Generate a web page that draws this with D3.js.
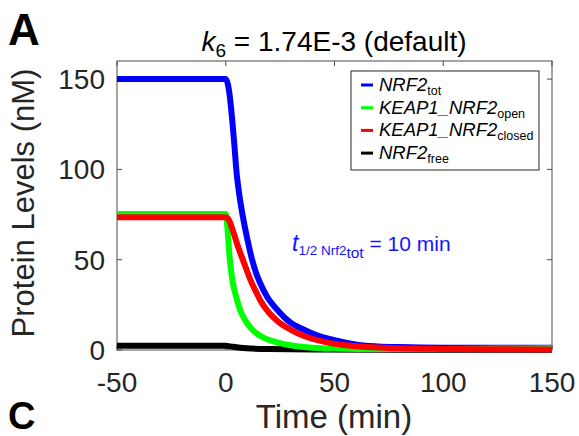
<!DOCTYPE html>
<html>
<head>
<meta charset="utf-8">
<script src="https://cdn.jsdelivr.net/npm/d3@7"></script>
<style>
  html, body { margin: 0; padding: 0; background: #fff; }
  svg { display: block; font-family: "Liberation Sans", Arial, sans-serif; }
</style>
</head>
<body>
<svg id="chart" width="579" height="436"></svg>
<script>
// Simulated protein levels (nM) over time (min); degradation switched on at t = 0
const timeTot = [-50, 0, 1, 2, 3, 4, 5, 6, 7, 8, 10, 12, 14, 16, 19, 22, 25, 27, 30, 35, 41, 50, 61, 70, 80, 100, 125, 150];
const nrf2Tot = [150, 150, 147, 139, 127, 113, 98, 88, 80, 73, 61, 50.5, 42.5, 36.5, 29.5, 24.5, 20.5, 18, 15, 11.8, 8.6, 5.4, 2.8, 2.0, 1.6, 1.3, 1.3, 1.3];

const timeOpen = [-50, 0, 1, 1.8, 3, 4, 5, 6, 7, 8.7, 10, 12, 15.6, 20, 25, 29, 35, 40, 50, 60, 80, 100, 125, 150];
const keapOpen = [75.3, 75.3, 64, 51, 39, 33, 28.5, 24.5, 21, 17, 14.5, 11.5, 8, 5.5, 3.8, 2.8, 1.8, 1.3, 0.8, 0.6, 0.5, 0.6, 0.8, 1.0];

const timeClosed = [-50, 0, 1, 2, 3, 4, 5, 6, 8, 9.7, 12, 14, 16.1, 20, 24, 30, 36.3, 45, 55, 65, 80, 100, 125, 150];
const keapClosed = [73.5, 73.5, 72.8, 70.5, 67, 63.5, 59.5, 56, 49.5, 44, 37, 32, 27, 20.5, 15.8, 11.2, 7.6, 4.6, 2.6, 1.7, 1.0, 0.6, 0.4, 0.3];

const timeFree = [-50, 0, 2, 5, 8, 12, 20, 40, 80, 150];
const nrf2Free = [2.3, 2.3, 2.0, 1.5, 1.1, 0.8, 0.5, 0.3, 0.2, 0.2];

const xTicks = [-50, 0, 50, 100, 150];
const yTicks = [0, 50, 100, 150];

const seriesNames = [
  { main: "NRF2", sub: "tot", color: "#0000ff" },
  { main: "KEAP1_NRF2", sub: "open", color: "#00ff00" },
  { main: "KEAP1_NRF2", sub: "closed", color: "#ff0000" },
  { main: "NRF2", sub: "free", color: "#000000" }
];

const svg = d3.select("#chart");
const axisColor = "#262626";
const boxColor = "#4a4a4a";

const x = d3.scaleLinear().domain([-50, 150]).range([117, 552]);
const y = d3.scaleLinear().domain([0, 160]).range([350, 61]);

// Axes box with inward ticks on all four sides
const frame = svg.append("g");
frame.append("rect")
  .attr("x", x(-50)).attr("y", y(160))
  .attr("width", x(150) - x(-50)).attr("height", y(0) - y(160))
  .attr("fill", "none").attr("stroke", boxColor).attr("stroke-width", 1);

const tickLen = 5;
xTicks.forEach(t => {
  frame.append("line").attr("x1", x(t)).attr("x2", x(t))
    .attr("y1", y(0)).attr("y2", y(0) - tickLen).attr("stroke", boxColor);
  frame.append("line").attr("x1", x(t)).attr("x2", x(t))
    .attr("y1", y(160)).attr("y2", y(160) + tickLen).attr("stroke", boxColor);
  frame.append("text").attr("x", x(t)).attr("y", 392)
    .attr("text-anchor", "middle").attr("font-size", 28).attr("fill", axisColor)
    .text(t);
});
yTicks.forEach(v => {
  frame.append("line").attr("x1", x(-50)).attr("x2", x(-50) + tickLen)
    .attr("y1", y(v)).attr("y2", y(v)).attr("stroke", boxColor);
  frame.append("line").attr("x1", x(150)).attr("x2", x(150) - tickLen)
    .attr("y1", y(v)).attr("y2", y(v)).attr("stroke", boxColor);
  frame.append("text").attr("x", 105).attr("y", y(v) + 10)
    .attr("text-anchor", "end").attr("font-size", 28).attr("fill", axisColor)
    .text(v);
});

// Axis labels
svg.append("text").attr("x", 334).attr("y", 428)
  .attr("text-anchor", "middle").attr("font-size", 33).attr("fill", axisColor)
  .text("Time (min)");
svg.append("text")
  .attr("transform", "translate(34,203) rotate(-90)")
  .attr("text-anchor", "middle").attr("font-size", 31).attr("fill", axisColor)
  .text("Protein Levels (nM)");

// Title
const title = svg.append("text").attr("x", 334).attr("y", 51)
  .attr("text-anchor", "middle").attr("font-size", 28).attr("fill", "#000");
title.append("tspan").attr("font-style", "italic").text("k");
title.append("tspan").attr("font-size", 19).attr("dy", 6).text("6");
title.append("tspan").attr("dy", -6).text(" = 1.74E-3 (default)");

// Panel letters
svg.append("text").attr("x", 8).attr("y", 45)
  .attr("font-size", 44).attr("font-weight", "bold").attr("fill", "#000").text("A");
svg.append("text").attr("x", 8).attr("y", 429)
  .attr("font-size", 38).attr("font-weight", "bold").attr("fill", "#000").text("C");

// Curves
const line = d3.line()
  .x(d => x(d[0])).y(d => y(d[1]))
  .curve(d3.curveMonotoneX);

const curves = [
  { t: timeFree, v: nrf2Free, color: "#000000" },
  { t: timeTot, v: nrf2Tot, color: "#0000ff" },
  { t: timeOpen, v: keapOpen, color: "#00ff00" },
  { t: timeClosed, v: keapClosed, color: "#ff0000" }
];
curves.forEach(c => {
  svg.append("path")
    .datum(d3.zip(c.t, c.v))
    .attr("d", line)
    .attr("fill", "none")
    .attr("stroke", c.color)
    .attr("stroke-width", 6)
    .attr("stroke-linejoin", "round");
});

// Half-life annotation
const ann = svg.append("text").attr("x", 292).attr("y", 251)
  .attr("fill", "#1414ff").attr("font-size", 21);
ann.append("tspan").attr("font-style", "italic").attr("font-size", 23).text("t");
ann.append("tspan").attr("font-size", 13.5).attr("dy", 4).text("1/2 Nrf2");
ann.append("tspan").attr("font-size", 15.5).attr("dy", 3).text("tot");
ann.append("tspan").attr("dy", -7).text(" = 10 min");

// Legend
const legend = svg.append("g");
legend.append("rect").attr("x", 351).attr("y", 71).attr("width", 188).attr("height", 99)
  .attr("fill", "#fff").attr("stroke", axisColor).attr("stroke-width", 1);
seriesNames.forEach((s, i) => {
  const ry = 85 + i * 22.7;
  legend.append("line").attr("x1", 361).attr("x2", 373).attr("y1", ry).attr("y2", ry)
    .attr("stroke", s.color).attr("stroke-width", 3);
  const t = legend.append("text").attr("x", 379).attr("y", ry + 6)
    .attr("font-size", 18.5).attr("font-style", "italic").attr("fill", "#000");
  t.append("tspan").text(s.main);
  t.append("tspan").attr("font-size", 12.5).attr("font-style", "normal").attr("dy", 4).text(s.sub);
});
</script>
</body>
</html>
